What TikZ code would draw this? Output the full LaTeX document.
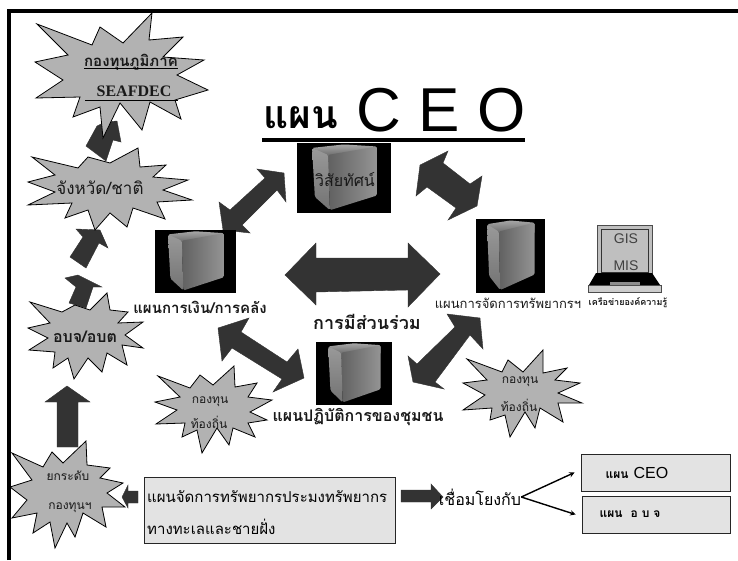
\documentclass[tikz,border=0pt]{standalone}
\usepackage{fontspec}
\newfontfamily\thaifont[Script=Thai]{Loma}
\newfontfamily\latinsans{Liberation Sans}
\newfontfamily\latinserif{Liberation Serif}
\newcommand{\thaisize}[1]{\thaifont\fontsize{#1}{#1}\selectfont}
\newcommand{\latinsize}[1]{\latinsans\fontsize{#1}{#1}\selectfont}
\newcommand{\serverbox}[4]{
	\fill[black] (#1,#2) rectangle ++(#3,#4);
	\begin{scope}[shift={(#1,#2)},x=#3pt,y=-#4pt,rounded corners=1.5pt]
		\shade[top color=black!35,bottom color=black!60] (0.16,0.07)--(0.5,0.02)--(0.85,0.05)--(0.85,0.2)--(0.33,0.2)--cycle;
		\shade[left color=black!62,right color=black!42] (0.33,0.17)--(0.85,0.05)--(0.85,0.75)--(0.35,0.96)--cycle;
		\shade[top color=black!40,bottom color=black!55] (0.16,0.07)--(0.33,0.17)--(0.35,0.96)--(0.19,0.77)--cycle;
	\end{scope}
}
\tikzset{
	burst/.style={draw=black,line width=0.8pt,fill=black!30,line join=miter},
	blockarrow/.style={fill=black!80,draw=black!80,line width=0.4pt},
	planbox/.style={draw=black!85,line width=0.9pt,fill=black!11},
	bursttext/.style={inner sep=0pt,text=black!90}
}
\begin{document}
\begin{tikzpicture}[x=1pt,y=-1pt,>=stealth]
	\useasboundingbox (0,0) rectangle (738,560);
	% arrows that go under the bursts
	\draw[blockarrow] (86,146)--(97,126)--(105,122)--(117,121)--(121,142)--(113,140)--(106,161)--cycle;
	\draw[blockarrow] (70,257)--(83,237)--(76,229)--(100,230)--(108,248)--(99,243)--(86,268)--cycle;
	\draw[blockarrow] (69,303)--(76,287)--(65,278)--(78,275)--(102,287)--(93,287)--(86,308)--cycle;
	\draw[blockarrow] (57,447)--(57,402)--(45,402)--(67,386)--(90,402)--(78,402)--(78,447)--cycle;
	\draw[blockarrow] (138,491)--(128,491)--(128,485)--(122,497)--(128,508)--(128,503)--(138,503)--cycle;
	% bursts
	\draw[burst] (152,13)--(149,40)--(183,37)--(163,57)--(204,60)--(177,75)--(208,90)--(175,100)--(181,119)--(150,102)--(142,130)--(120,103)--(103,138)--(100,107)--(73,117)--(80,97)--(36,98)--(63,80)--(35,62)--(68,55)--(37,24)--(92,45)--(100,27)--(123,43)--cycle;
	\draw[burst] (138,148)--(140,167)--(166,165)--(153,177)--(188,180)--(163,190)--(192,200)--(157,202)--(165,219)--(133,208)--(127,227)--(110,213)--(95,230)--(88,210)--(65,218)--(72,203)--(28,205)--(55,192)--(28,182)--(55,175)--(32,157)--(78,168)--(88,157)--(110,163)--cycle;
	\draw[burst] (107,293)--(110,310)--(128,312)--(118,323)--(143,322)--(125,335)--(143,348)--(122,345)--(127,365)--(107,353)--(102,372)--(88,358)--(74,379)--(68,358)--(53,368)--(55,352)--(29,350)--(48,338)--(28,328)--(50,323)--(30,302)--(62,312)--(75,305)--(90,310)--cycle;
	\draw[burst] (234,366)--(235,387)--(257,383)--(248,397)--(272,400)--(250,412)--(267,420)--(248,423)--(255,437)--(233,428)--(229,445)--(217,428)--(202,453)--(197,430)--(182,437)--(185,423)--(156,424)--(177,410)--(155,402)--(180,397)--(158,376)--(190,388)--(200,375)--(213,385)--cycle;
	\draw[burst] (543,350)--(543,373)--(567,368)--(555,380)--(580,383)--(558,393)--(582,403)--(558,403)--(563,422)--(540,408)--(535,428)--(525,412)--(510,437)--(505,415)--(490,420)--(492,408)--(463,410)--(485,395)--(463,383)--(487,380)--(467,359)--(502,372)--(508,360)--(523,372)--cycle;
	\draw[burst] (86,441)--(87,465)--(110,468)--(100,478)--(123,483)--(107,493)--(125,507)--(102,507)--(106,527)--(83,513)--(75,537)--(67,523)--(55,548)--(50,522)--(33,533)--(37,513)--(12,518)--(27,500)--(10,487)--(32,480)--(12,453)--(43,467)--(52,452)--(63,463)--cycle;
	% double arrows of the middle
	\draw[blockarrow] (285,275)--(316,243)--(316,258)--(408,258)--(408,243)--(440,274)--(408,307)--(408,290)--(316,292)--(316,305)--cycle;
	\draw[blockarrow] (257,169)--(284,173)--(286,202)--(277,190)--(242,225)--(250,233)--(223,230)--(219,202)--(230,210)--(265,178)--cycle;
	\draw[blockarrow] (448,151)--(443,163)--(470,184)--(482,176)--(477,206)--(448,220)--(456,208)--(427,187)--(416,196)--(420,165)--cycle;
	\draw[blockarrow] (218,328)--(249,318)--(241,332)--(287,362)--(298,349)--(304,378)--(273,392)--(282,379)--(232,348)--(222,361)--cycle;
	\draw[blockarrow] (447,314)--(480,318)--(483,349)--(470,335)--(435,382)--(444,389)--(413,382)--(408,356)--(417,364)--(455,327)--cycle;
	\serverbox{297}{143}{94}{70}
	\serverbox{155}{230}{81}{63}
	\serverbox{476}{219}{69}{74}
	\serverbox{316}{342}{76}{63}
	% laptop
	\draw[draw=black!70,fill=black!25,line width=1pt] (597,225) rectangle (652,273);
	\draw[draw=black!80,line width=1pt] (601,229) rectangle (648,272);
	\fill[black] (596,273)--(652,273)--(660,285)--(589,285)--cycle;
	\draw[draw=black!70,fill=black!20,line width=0.8pt] (588,285) rectangle (661,292);
	\fill[black!45] (610,282) rectangle (640,285);
	\node[font=\latinsize{14},text=black!75] (gis) at (626,239) {GIS};
	\node[font=\latinsize{14},text=black!75] (mis) at (626,266) {MIS};
	% title
	\node[font=\thaisize{39}\bfseries,inner sep=0pt] (plantitle) at (301,118) {แผน};
	\node[font=\latinsize{62},inner sep=0pt] (ceotitle) at (441,110) {C E O};
	\draw[line width=4.5pt] (262,140) -- (525,140);
	% labels
	\node[bursttext,font=\thaisize{15}\bfseries] (fundregion) at (131,62) {กองทุนภูมิภาค};
	\node[bursttext,font={\latinserif\fontsize{16}{16}\selectfont\bfseries}] (seafdec) at (134,91) {SEAFDEC};
	\draw[line width=0.9pt] ([yshift=2pt]fundregion.south west) -- ([yshift=2pt]fundregion.south east);
	\draw[line width=0.9pt] (85,100) -- (178,100);
	\node[bursttext,font=\thaisize{17}] (province) at (100,188) {จังหวัด/ชาติ};
	\node[bursttext,font=\thaisize{16}\bfseries] (localgov) at (85,337) {อบจ/อบต};
	\node[bursttext,font=\thaisize{12}] (raise) at (68,476) {ยกระดับ};
	\node[bursttext,font=\thaisize{12}] (funds) at (70,508) {กองทุนฯ};
	\node[bursttext,font=\thaisize{12}] (fundleft) at (210,402) {กองทุน};
	\node[bursttext,font=\thaisize{12}] (localleft) at (209,422) {ท้องถิ่น};
	\node[bursttext,font=\thaisize{12}] (fundright) at (520,382) {กองทุน};
	\node[bursttext,font=\thaisize{12}] (localright) at (519,405) {ท้องถิ่น};
	\node[bursttext,font=\thaisize{16}] (vision) at (345,180) {วิสัยทัศน์};
	\node[bursttext,font=\thaisize{15}\bfseries] (finance) at (200,307) {แผนการเงิน/การคลัง};
	\node[bursttext,font=\thaisize{13}] (resource) at (508,303) {แผนการจัดการทรัพยากรฯ};
	\node[bursttext,font=\thaisize{9}\bfseries] (network) at (628,303) {เครือข่ายองค์ความรู้};
	\node[bursttext,font=\thaisize{18}\bfseries] (joinin) at (367,322) {การมีส่วนร่วม};
	\node[bursttext,font=\thaisize{16}\bfseries] (community) at (358,417) {แผนปฏิบัติการของชุมชน};
	% plans at the bottom
	\node[planbox,minimum width=251pt,minimum height=66pt,inner sep=0pt] (mainplan) at (269.5,510) {};
	\node[font=\thaisize{15},inner sep=0pt,anchor=west] (mainone) at (147,497) {แผนจัดการทรัพยากรประมงทรัพยากร};
	\node[font=\thaisize{15},inner sep=0pt,anchor=west] (maintwo) at (147,527) {ทางทะเลและชายฝั่ง};
	\draw[blockarrow] (401,490)--(431,490)--(431,484)--(443,497)--(431,509)--(431,502)--(401,502)--cycle;
	\node[font=\thaisize{16},inner sep=0pt] (linkwith) at (480,497) {เชื่อมโยงกับ};
	\node[planbox,minimum width=149pt,minimum height=37pt,inner sep=0pt] (ceoplan) at (655.5,472.5) {};
	\node[planbox,minimum width=148pt,minimum height=37pt,inner sep=0pt] (orgplan) at (656,514.5) {};
	\node[inner sep=0pt] (ceoname) at (637,473) {{\thaisize{12}\bfseries แผน}\ \,{\latinsize{16}CEO}};
	\node[inner sep=0pt] (orgname) at (630,514) {{\thaisize{12}\bfseries แผน\ \ อ บ จ}};
	\draw[->,line width=1.4pt] (linkwith.east) -- ([xshift=-6pt]ceoplan.west);
	\draw[->,line width=1.4pt] (linkwith.east) -- ([xshift=-6pt]orgplan.west);
	% frame
	\draw[line width=4pt] (9,560) -- (9,11) -- (738,11);
\end{tikzpicture}
\end{document}
